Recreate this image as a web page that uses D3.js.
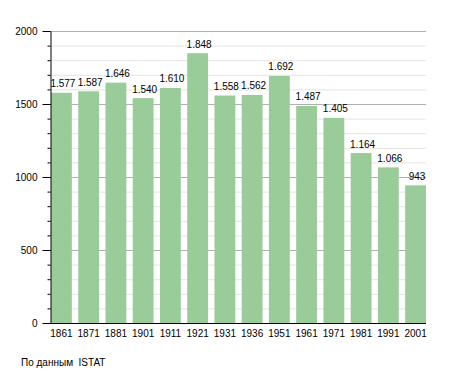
<!DOCTYPE html>
<html>
<head>
<meta charset="utf-8">
<script src="https://cdn.jsdelivr.net/npm/d3@7"></script>
<style>
  body { margin: 0; background: #fff; }
  text { font-family: "Liberation Sans", Arial, sans-serif; font-size: 10px; fill: #000; }
</style>
</head>
<body>
<div id="chart"></div>
<script>
// population by census year
const years = ["1861","1871","1881","1901","1911","1921","1931","1936","1951","1961","1971","1981","1991","2001"];
const population = [1577,1587,1646,1540,1610,1848,1558,1562,1692,1487,1405,1164,1066,943];
const yTicks = [0,500,1000,1500,2000];
const sourceNote = "По данным  ISTAT";

const width = 455, height = 373;
const margin = {top: 31, left: 50, right: 29, bottom: 50};

const svg = d3.select("#chart").append("svg")
    .attr("width", width).attr("height", height);

const xScale = d3.scaleBand()
    .domain(years)
    .range([margin.left + 1, width - margin.right])
    .paddingInner(0.235)
    .paddingOuter(0);

const yScale = d3.scaleLinear()
    .domain([0, 2000])
    .range([height - margin.bottom, margin.top]);

// minor grid every 100
svg.append("g")
    .selectAll("line")
    .data(d3.range(100, 2001, 100).filter(d => d % 500 !== 0))
    .join("line")
    .attr("x1", margin.left).attr("x2", width - margin.right)
    .attr("y1", d => yScale(d) + 0.5).attr("y2", d => yScale(d) + 0.5)
    .attr("stroke", "#e4e4e4");

// major grid every 500
svg.append("g")
    .selectAll("line")
    .data(yTicks.filter(d => d > 0))
    .join("line")
    .attr("x1", margin.left).attr("x2", width - margin.right)
    .attr("y1", d => yScale(d) + 0.5).attr("y2", d => yScale(d) + 0.5)
    .attr("stroke", "#b0b0b0");

// bars
svg.append("g")
    .selectAll("rect")
    .data(population)
    .join("rect")
    .attr("x", (d, i) => xScale(years[i]))
    .attr("y", d => yScale(d))
    .attr("width", xScale.bandwidth())
    .attr("height", d => yScale(0) - yScale(d))
    .attr("fill", "#99cc99");

// value labels, italian thousand separator
const fmt = d => d >= 1000 ? Math.floor(d / 1000) + "." + String(d % 1000).padStart(3, "0") : String(d);
svg.append("g")
    .selectAll("text")
    .data(population)
    .join("text")
    .attr("x", (d, i) => xScale(years[i]) + xScale.bandwidth() / 2 + 1.5)
    .attr("y", d => yScale(d) - 5.5)
    .attr("text-anchor", "middle")
    .text(fmt);

// y axis with minor ticks
svg.append("g")
    .attr("transform", `translate(${margin.left + 0.5},0)`)
    .call(d3.axisLeft(yScale).tickValues(d3.range(0, 2001, 100)).tickSize(3).tickFormat(""))
    .call(g => g.select(".domain").remove());

const yAxis = svg.append("g")
    .attr("transform", `translate(${margin.left + 0.5},0)`)
    .call(d3.axisLeft(yScale).tickValues(yTicks).tickSize(8).tickPadding(5)
        .tickSizeOuter(0).tickFormat(d3.format("d")));
yAxis.selectAll("text").style("font-size", "10px").attr("font-family", null);

// x axis
const xAxis = svg.append("g")
    .attr("transform", `translate(0,${yScale(0) + 0.5})`)
    .call(d3.axisBottom(xScale).tickSize(0).tickPadding(6));
xAxis.select(".domain").attr("d", `M${margin.left},0H${width - margin.right}`);
xAxis.selectAll("text").style("font-size", "10px").attr("font-family", null);

svg.append("text")
    .attr("x", 21)
    .attr("y", 366)
    .style("white-space", "pre")
    .text(sourceNote);
</script>
</body>
</html>
